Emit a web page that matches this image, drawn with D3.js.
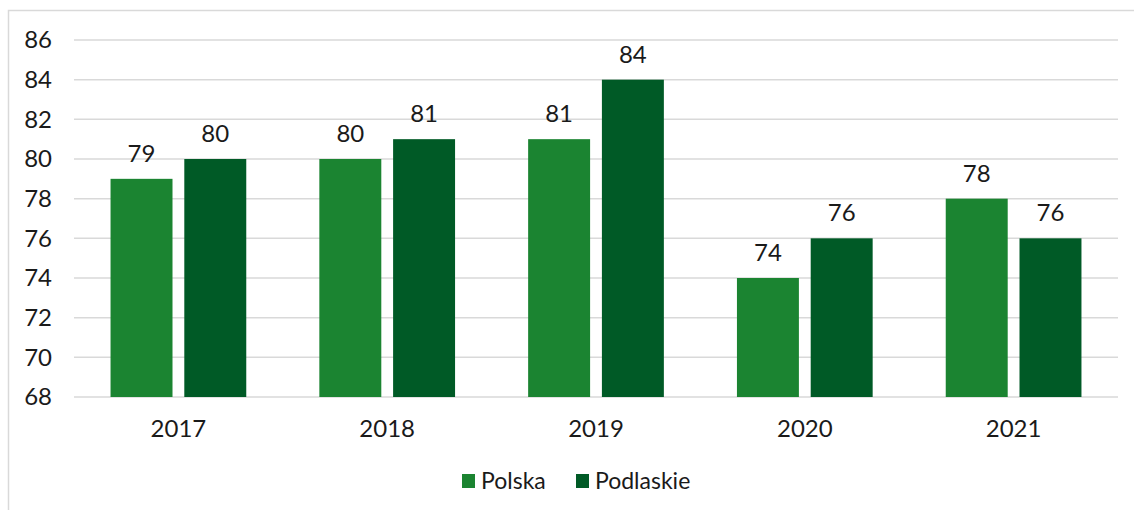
<!DOCTYPE html>
<html>
<head>
<meta charset="utf-8">
<script src="https://cdn.jsdelivr.net/npm/d3@7"></script>
<style>
  body { margin: 0; background: #fff; }
  svg text { font-family: "Century Gothic", "URW Gothic", Lato, "DejaVu Sans", sans-serif; fill: #1a1a1a; }
</style>
</head>
<body>
<div id="chart"></div>
<script>
const years = ['2017', '2018', '2019', '2020', '2021'];
const seriesNames = ['Polska', 'Podlaskie'];
const polska = [79, 80, 81, 74, 78];
const podlaskie = [80, 81, 84, 76, 76];
const yTicks = [68, 70, 72, 74, 76, 78, 80, 82, 84, 86];
const colors = ['#1b8431', '#005a26'];

const W = 1134, H = 510;
const margin = { top: 40, right: 16, bottom: 113, left: 74 };
const width = W - margin.left - margin.right;
const height = H - margin.top - margin.bottom;

const svg = d3.select('#chart').append('svg')
  .attr('width', W)
  .attr('height', H);

// outer frame
svg.append('rect')
  .attr('x', 8.5).attr('y', 10.5)
  .attr('width', W + 20).attr('height', H + 20)
  .attr('fill', 'none')
  .attr('stroke', '#d9d9d9')
  .attr('stroke-width', 1.5);

const g = svg.append('g')
  .attr('transform', `translate(${margin.left},${margin.top})`);

const x = d3.scaleBand().domain(years).range([0, width]).paddingInner(0.35).paddingOuter(0.175);
const xs = d3.scaleBand().domain(seriesNames).range([0, x.bandwidth()]).paddingInner(0.16);
const y = d3.scaleLinear().domain([68, 86]).range([height, 0]);

// gridlines
g.selectAll('.grid')
  .data(yTicks)
  .enter()
  .append('line')
  .attr('x1', 0).attr('x2', width)
  .attr('y1', d => y(d)).attr('y2', d => y(d))
  .attr('stroke', '#d9d9d9')
  .attr('stroke-width', 1.5);

// y axis labels
const yAxis = g.append('g')
  .call(d3.axisLeft(y).tickValues(yTicks).tickSize(0).tickPadding(22));
yAxis.select('.domain').remove();
yAxis.selectAll('text').style('font-size', '24px');

// x axis labels
const xAxis = g.append('g')
  .attr('transform', `translate(0,${height})`)
  .call(d3.axisBottom(x).tickSize(0).tickPadding(23));
xAxis.select('.domain').remove();
xAxis.selectAll('text').style('font-size', '24px');

const data = years.map((yr, i) => ({ year: yr, values: [polska[i], podlaskie[i]] }));

const groups = g.selectAll('.grp')
  .data(data)
  .enter()
  .append('g')
  .attr('transform', d => `translate(${x(d.year)},0)`);

groups.selectAll('rect')
  .data(d => d.values.map((v, k) => ({ name: seriesNames[k], value: v, k })))
  .enter()
  .append('rect')
  .attr('x', d => xs(d.name))
  .attr('y', d => y(d.value))
  .attr('width', xs.bandwidth())
  .attr('height', d => height - y(d.value))
  .attr('fill', d => colors[d.k]);

groups.selectAll('.value-label')
  .data(d => d.values.map((v, k) => ({ name: seriesNames[k], value: v })))
  .enter()
  .append('text')
  .attr('class', 'value-label')
  .attr('x', d => xs(d.name) + xs.bandwidth() / 2)
  .attr('y', d => y(d.value) - 17)
  .attr('text-anchor', 'middle')
  .style('font-size', '24px')
  .text(d => d.value);

// legend
const legend = svg.append('g').attr('transform', 'translate(462,474)');
const legendX = [0, 114];
seriesNames.forEach((name, k) => {
  legend.append('rect')
    .attr('x', legendX[k]).attr('y', 0)
    .attr('width', 13).attr('height', 14)
    .attr('fill', colors[k]);
  legend.append('text')
    .attr('x', legendX[k] + 19).attr('y', 15)
    .style('font-size', '23px')
    .text(name);
});
</script>
</body>
</html>
